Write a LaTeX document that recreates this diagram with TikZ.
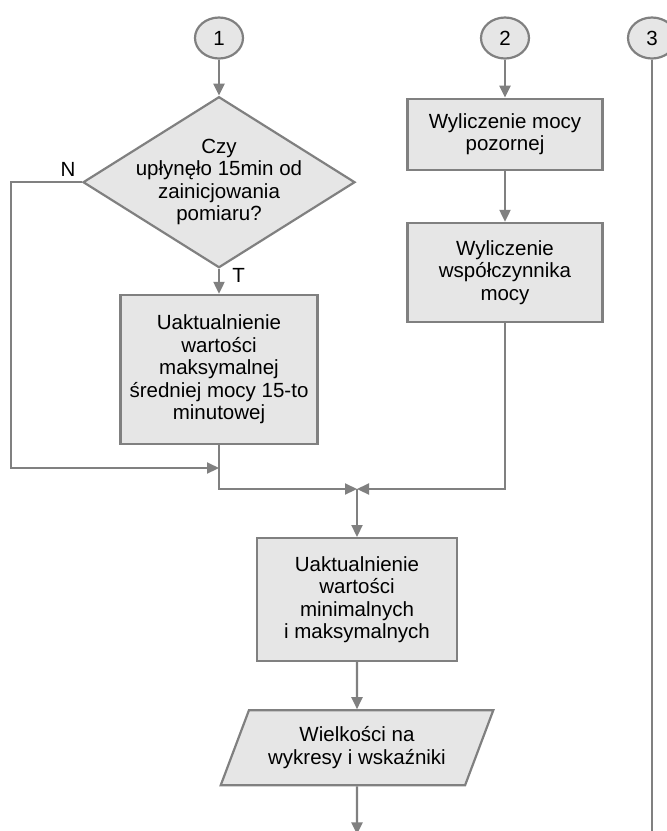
\documentclass[tikz,border=0pt]{standalone}
\usepackage{fontspec}
\setmainfont{Liberation Sans}
\usetikzlibrary{shapes.geometric,arrows.meta,positioning}
\definecolor{linegray}{HTML}{808080}
\definecolor{fillgray}{HTML}{E6E6E6}

\begin{document}
\begin{tikzpicture}[x=1pt,y=-1pt,->,>={Triangle[length=12pt,width=11pt]},
  every node/.style={font=\fontsize{20.5}{22.5}\selectfont},
  conn/.style={ellipse, draw=linegray, fill=fillgray, line width=2.2pt, minimum width=48pt, minimum height=41pt, inner sep=0pt},
  proc/.style={rectangle, draw=linegray, fill=fillgray, line width=2.2pt, align=center, inner sep=0pt},
  decision/.style={diamond, draw=linegray, fill=fillgray, line width=2.2pt, minimum width=272pt, minimum height=171pt, inner sep=0pt},
  io/.style={trapezium, trapezium left angle=61, trapezium right angle=119, trapezium stretches=true, draw=linegray, fill=fillgray, line width=2.2pt, align=center, minimum width=273pt, minimum height=75pt, inner sep=0pt},
  flow/.style={draw=linegray, line width=2.2pt}]
  \useasboundingbox (0,0) rectangle (667,831);

  % left column
  \node[conn] (c1) at (219,38) {1};
  \node[decision, below=36pt of c1,
        label={[align=center]center:{Czy\\upłynęło 15min od\\zainicjowania\\pomiaru?}}] (dec) {};
  \node[proc, minimum width=197pt, minimum height=149pt, below=25pt of dec] (upd15)
       {Uaktualnienie\\wartości\\maksymalnej\\średniej mocy 15-to\\minutowej};
  \coordinate[below=23pt of upd15.south] (j1);

  % middle column
  \node[conn] (c2) at (505,38) {2};
  \node[proc, minimum width=195pt, minimum height=71pt, below=38pt of c2] (pozorna)
       {Wyliczenie mocy\\pozornej};
  \node[proc, minimum width=195pt, minimum height=99pt, below=51pt of pozorna] (wsp)
       {Wyliczenie\\współczynnika\\mocy};

  % right column
  \node[conn] (c3) at (652,38) {3};
  \coordinate (c3end) at (652,831);

  % joined part
  \coordinate (j2) at (357,489);
  \node[proc, minimum width=200pt, minimum height=123pt, below=48pt of j2] (minmax)
       {Uaktualnienie\\wartości\\minimalnych\\i maksymalnych};
  \node[io, below=47pt of minmax] (wykresy) {Wielkości na\\wykresy i wskaźniki};
  \coordinate[below=48pt of wykresy.south] (out);

  \draw[flow] (c1) -- (dec);
  \draw[flow] (dec) -- node[pos=0.25, right=9pt] {T} (upd15);
  \draw[flow] (dec.west) node[above left=1pt and 2pt] {N} -- ++(-71,0) |- (j1);
  \draw[flow] (upd15) |- (j2);
  \draw[flow] (c2) -- (pozorna);
  \draw[flow] (pozorna) -- (wsp);
  \draw[flow] (wsp) |- (j2);
  \draw[flow] (j2) -- (minmax);
  \draw[flow] (minmax) -- (wykresy);
  \draw[flow] (wykresy) -- (out);
  \draw[flow,-] (c3) -- (c3end);
\end{tikzpicture}
\end{document}
